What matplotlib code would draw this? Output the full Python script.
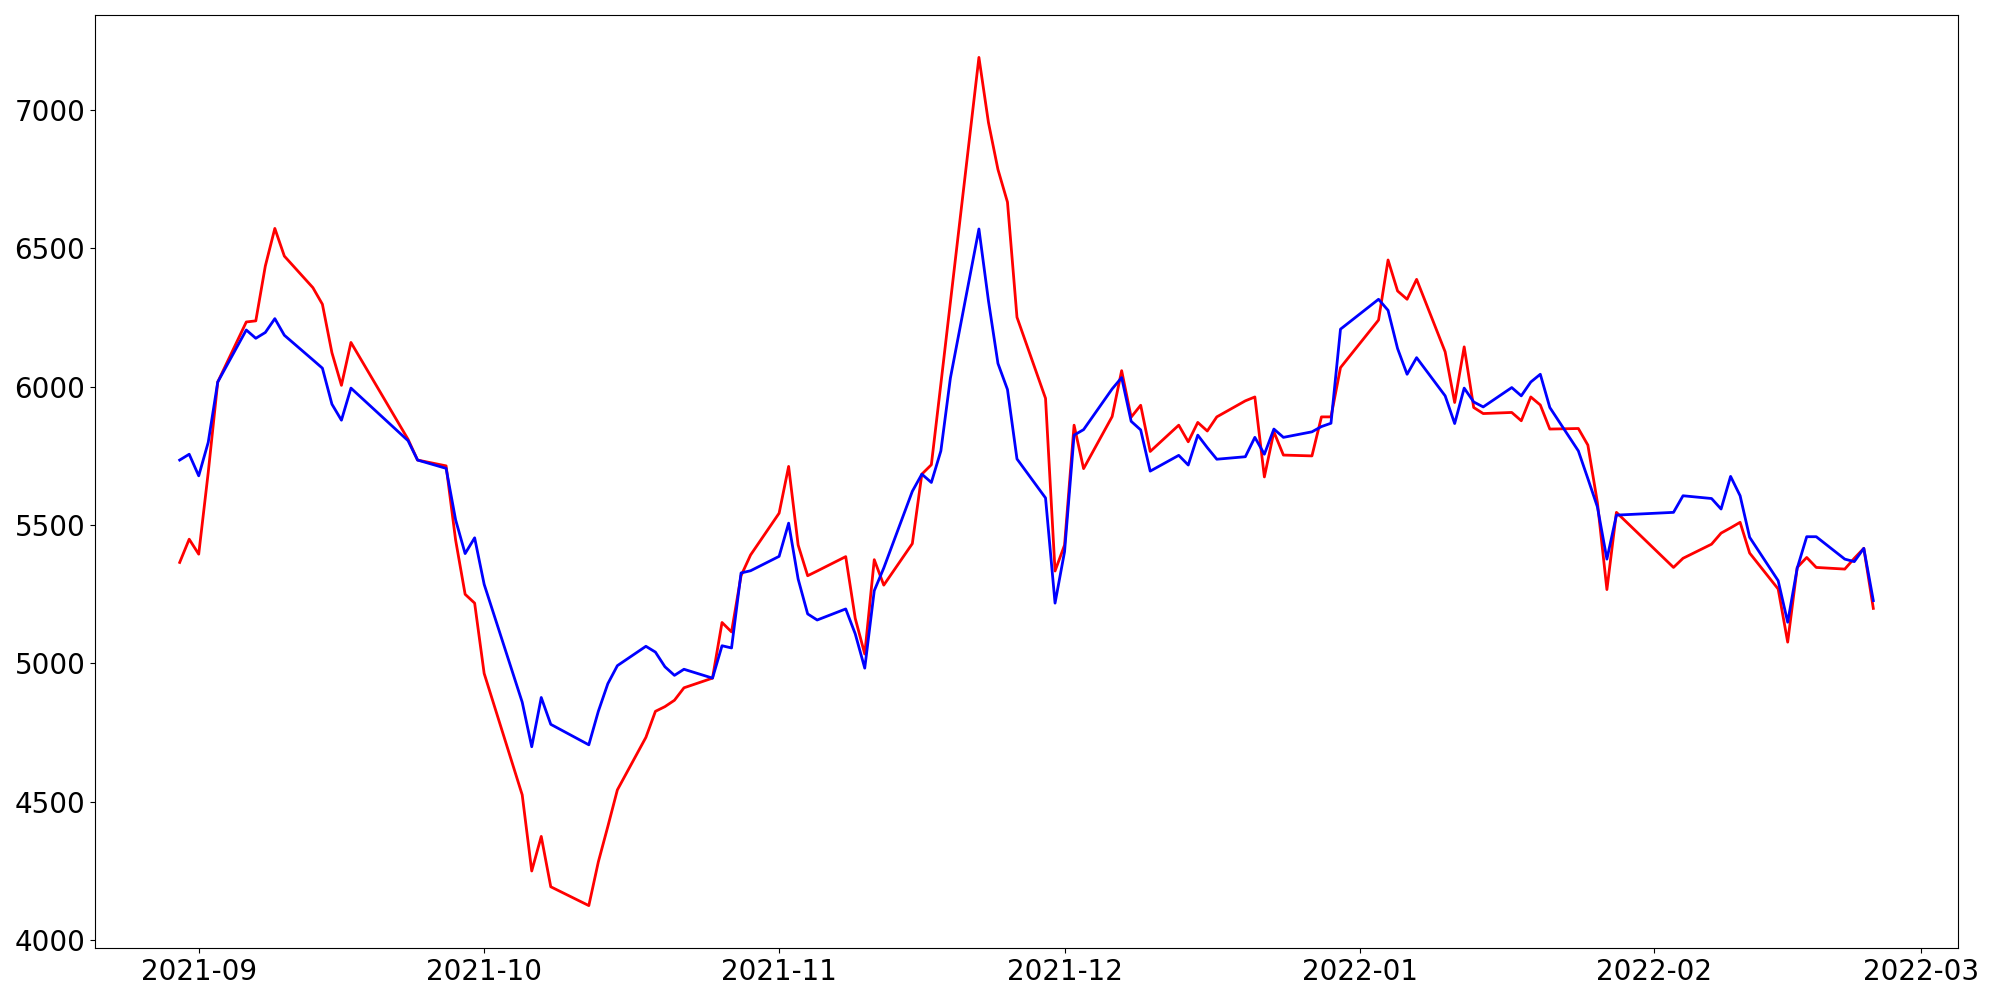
import pandas as pd
import matplotlib
matplotlib.use("Agg")
import matplotlib.pyplot as plt

# trading days shown on the chart
dates = [
  "2021-08-30", "2021-08-31", "2021-09-01", "2021-09-02", "2021-09-03",
  "2021-09-06", "2021-09-07", "2021-09-08", "2021-09-09", "2021-09-10",
  "2021-09-13", "2021-09-14", "2021-09-15", "2021-09-16", "2021-09-17",
  "2021-09-23", "2021-09-24", "2021-09-27", "2021-09-28", "2021-09-29",
  "2021-09-30", "2021-10-01", "2021-10-05", "2021-10-06", "2021-10-07",
  "2021-10-08", "2021-10-12", "2021-10-13", "2021-10-14", "2021-10-15",
  "2021-10-18", "2021-10-19", "2021-10-20", "2021-10-21", "2021-10-22",
  "2021-10-25", "2021-10-26", "2021-10-27", "2021-10-28", "2021-10-29",
  "2021-11-01", "2021-11-02", "2021-11-03", "2021-11-04", "2021-11-05",
  "2021-11-08", "2021-11-09", "2021-11-10", "2021-11-11", "2021-11-12",
  "2021-11-15", "2021-11-16", "2021-11-17", "2021-11-18", "2021-11-19",
  "2021-11-22", "2021-11-23", "2021-11-24", "2021-11-25", "2021-11-26",
  "2021-11-29", "2021-11-30", "2021-12-01", "2021-12-02", "2021-12-03",
  "2021-12-06", "2021-12-07", "2021-12-08", "2021-12-09", "2021-12-10",
  "2021-12-13", "2021-12-14", "2021-12-15", "2021-12-16", "2021-12-17",
  "2021-12-20", "2021-12-21", "2021-12-22", "2021-12-23", "2021-12-24",
  "2021-12-27", "2021-12-28", "2021-12-29", "2021-12-30",
  "2022-01-03", "2022-01-04", "2022-01-05", "2022-01-06", "2022-01-07",
  "2022-01-10", "2022-01-11", "2022-01-12", "2022-01-13", "2022-01-14",
  "2022-01-17", "2022-01-18", "2022-01-19", "2022-01-20", "2022-01-21",
  "2022-01-24", "2022-01-25", "2022-01-26", "2022-01-27", "2022-01-28",
  "2022-02-03", "2022-02-04", "2022-02-07", "2022-02-08", "2022-02-09",
  "2022-02-10", "2022-02-11", "2022-02-14", "2022-02-15", "2022-02-16",
  "2022-02-17", "2022-02-18", "2022-02-21", "2022-02-22", "2022-02-23",
  "2022-02-24",
]

red_values = [
  5365, 5449, 5395, 5690, 6017,
  6234, 6238, 6436, 6572, 6472,
  6358, 6298, 6123, 6005, 6160,
  5810, 5735, 5714, 5446, 5250,
  5218, 4964, 4525, 4250, 4375,
  4193, 4125, 4283, 4411, 4543,
  4733, 4827, 4844, 4867, 4912,
  4947, 5148, 5114, 5317, 5392,
  5543, 5712, 5428, 5317, 5334,
  5386, 5163, 5034, 5375, 5283,
  5433, 5684, 5718, 6010, 6305,
  7190, 6955, 6785, 6667, 6251,
  5958, 5334, 5428, 5861, 5704,
  5892, 6058, 5890, 5933, 5766,
  5861, 5801, 5871, 5840, 5891,
  5949, 5963, 5674, 5837, 5753,
  5750, 5891, 5891, 6069,
  6241, 6458, 6346, 6316, 6388,
  6126, 5943, 6144, 5925, 5903,
  5907, 5877, 5963, 5934, 5847,
  5849, 5789, 5582, 5267, 5546,
  5347, 5380, 5431, 5471, 5490,
  5510, 5399, 5269, 5077, 5347,
  5383, 5347, 5341, 5380, 5416,
  5199,
]

blue_values = [
  5735, 5756, 5678, 5799, 6017,
  6205, 6175, 6196, 6246, 6186,
  6097, 6067, 5937, 5879, 5995,
  5805, 5735, 5705, 5519, 5397,
  5454, 5286, 4860, 4699, 4877,
  4780, 4706, 4827, 4927, 4992,
  5062, 5041, 4988, 4957, 4979,
  4947, 5064, 5056, 5327, 5335,
  5387, 5507, 5305, 5179, 5157,
  5197, 5107, 4983, 5263, 5345,
  5622, 5684, 5654, 5768, 6031,
  6570, 6311, 6084, 5990, 5739,
  5598, 5218, 5404, 5825, 5845,
  5992, 6033, 5875, 5844, 5695,
  5752, 5717, 5825, 5780, 5738,
  5747, 5817, 5756, 5847, 5817,
  5837, 5856, 5868, 6208,
  6316, 6276, 6138, 6045, 6105,
  5967, 5867, 5995, 5945, 5927,
  5997, 5967, 6017, 6045, 5925,
  5768, 5668, 5566, 5377, 5536,
  5546, 5606, 5596, 5558, 5676,
  5606, 5456, 5299, 5149, 5344,
  5458, 5458, 5377, 5368, 5416,
  5227,
]


def draw_chart(x, red, blue):
  fig = plt.figure(figsize=(20, 10), dpi=100)
  ax = fig.add_axes([0.0475, 0.052, 0.9315, 0.933])
  ax.plot(x, red, color="red", linewidth=2)
  ax.plot(x, blue, color="blue", linewidth=2)
  ax.tick_params(axis="both", labelsize=20)
  fig.savefig("out.png", dpi=100)


draw_chart(pd.to_datetime(dates), red_values, blue_values)
